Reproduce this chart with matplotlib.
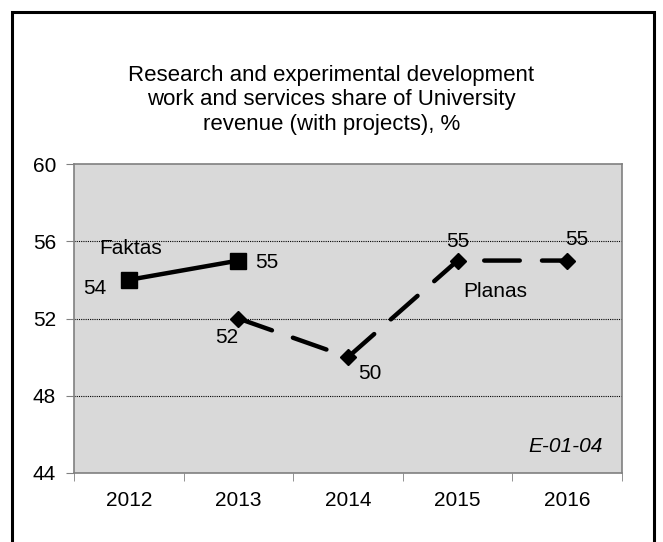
import matplotlib.pyplot as plt
from matplotlib.patches import Rectangle

plt.rcParams['font.family'] = ['Liberation Sans', 'DejaVu Sans']

years = ['2012', '2013', '2014', '2015', '2016']
faktas_idx = [0, 1]
faktas = [54, 55]
planas_idx = [1, 2, 3, 4]
planas = [52, 50, 55, 55]

W, H = 663, 542
fig = plt.figure(figsize=(W / 100, H / 100), dpi=100)
ax = fig.add_axes([74 / W, 1 - 473 / H, (622 - 74) / W, (473 - 164) / H])

# outer frame
fig.patches.append(Rectangle((12 / W, -0.05), (654 - 12) / W, 1.05 - 12 / H,
                             transform=fig.transFigure, fill=False,
                             edgecolor='black', linewidth=2.2))

ax.set_facecolor('#d9d9d9')
ax.plot(faktas_idx, faktas, color='black', lw=3.2, marker='s', ms=11.5,
        solid_capstyle='butt', zorder=3)
ax.plot(planas_idx, planas, color='black', lw=3.2, marker='D', ms=8.5,
        dashes=(8, 5), dash_capstyle='round', zorder=3)

ax.set_xlim(-0.5, 4.5)
ax.set_ylim(44, 60)
ax.set_yticks([44, 48, 52, 56, 60])
ax.set_xticks(range(5))
ax.set_xticklabels(years)
ax.set_xticks([-0.5, 0.5, 1.5, 2.5, 3.5, 4.5], minor=True)
ax.tick_params(axis='x', which='major', length=0, pad=13, labelsize=15)
ax.tick_params(axis='x', which='minor', length=6, color='#808080')
ax.tick_params(axis='y', length=6, color='#808080', pad=7, labelsize=15)
for s in ax.spines.values():
    s.set_color('#808080')
    s.set_linewidth(1.2)

for y in [48, 52, 56]:
    ax.axhline(y, color='black', lw=0.8, ls=(0, (1, 1)), zorder=1)

fs = 15
ax.text(-0.31, 53.55, str(faktas[0]), ha='center', va='center', fontsize=fs)
ax.text(1.26, 54.9, str(faktas[1]), ha='center', va='center', fontsize=fs)
ax.text(0.89, 51.0, str(planas[0]), ha='center', va='center', fontsize=fs)
ax.text(2.2, 49.15, str(planas[1]), ha='center', va='center', fontsize=fs)
ax.text(3.0, 56.0, str(planas[2]), ha='center', va='center', fontsize=fs)
ax.text(4.09, 56.1, str(planas[3]), ha='center', va='center', fontsize=fs)

ax.text(0.02, 55.6, 'Faktas', ha='center', va='center', fontsize=fs)
ax.text(3.34, 53.4, 'Planas', ha='center', va='center', fontsize=fs)
ax.text(0.965, 0.085, 'E-01-04', transform=ax.transAxes, ha='right',
        va='center', fontsize=fs, style='italic')

fig.text(0.5, 1 - 100 / H,
         'Research and experimental development\n'
         'work and services share of University\n'
         'revenue (with projects), %',
         ha='center', va='center', fontsize=16, linespacing=1.22)

fig.savefig('out.png', dpi=100)
